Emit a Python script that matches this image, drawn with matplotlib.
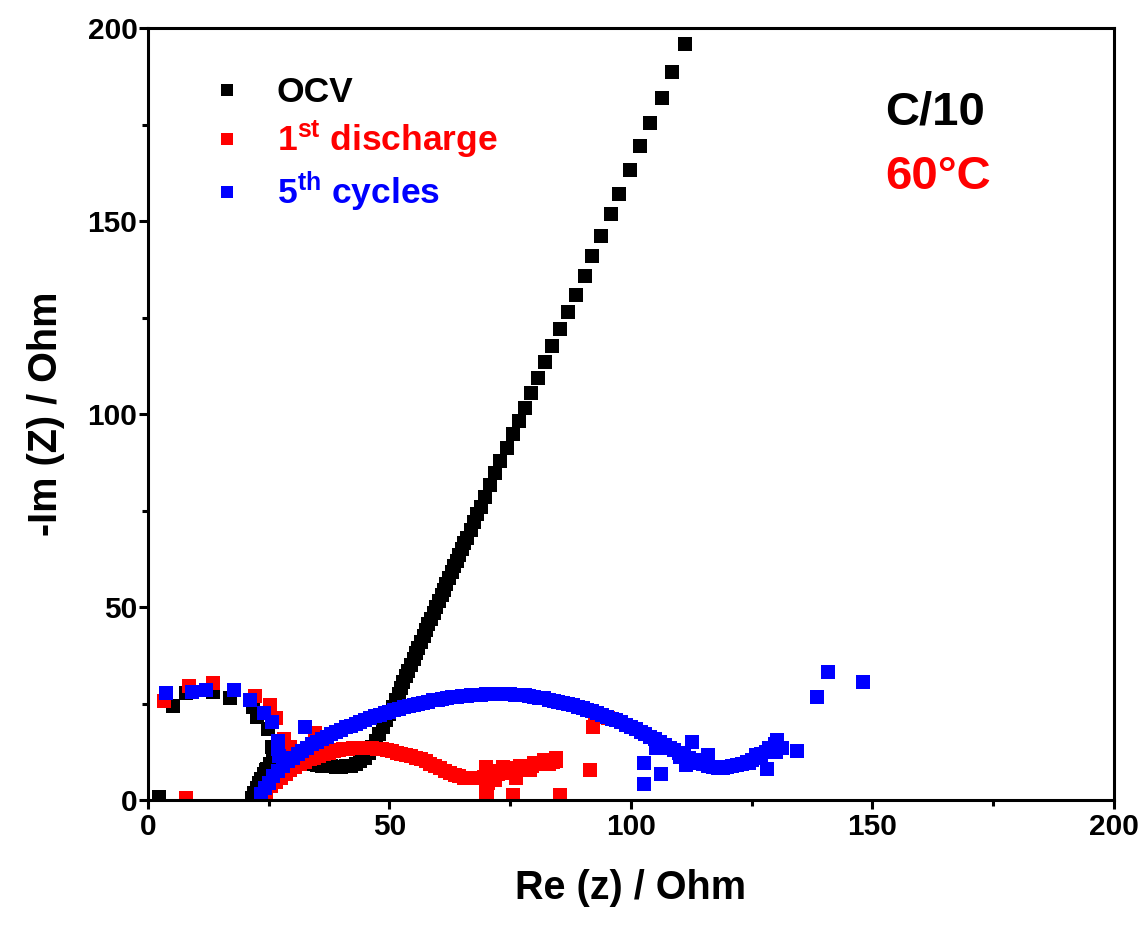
import matplotlib
matplotlib.use("Agg")
import matplotlib.pyplot as plt
from matplotlib.ticker import MultipleLocator
from matplotlib.lines import Line2D

plt.rcParams["font.family"] = ["Liberation Sans", "DejaVu Sans"]
plt.rcParams["font.weight"] = "bold"
plt.rcParams["mathtext.fontset"] = "custom"
plt.rcParams["mathtext.rm"] = "Liberation Sans:bold"
plt.rcParams["mathtext.it"] = "Liberation Sans:bold"
plt.rcParams["mathtext.bf"] = "Liberation Sans:bold"
plt.rcParams["mathtext.default"] = "rm"

# ---- data (Ohm) ----
ocv_re = [2.3, 5.2, 7.8, 13.4, 17.0, 21.8, 22.6, 24.9, 25.8, 24.4,
          21.5, 22.0, 22.5, 23.0, 23.5, 24.0, 24.6, 25.2, 26.0, 27.0, 28.0, 29.0, 30.0,
          31.0, 32.0, 33.0, 34.0, 35.0, 36.0, 37.0, 38.0, 39.0, 40.0, 41.0, 42.0, 43.0,
          44.0, 45.0, 45.8, 46.5, 47.2, 47.9, 48.6, 49.3, 50.0, 50.7, 51.4,
          51.9, 52.4, 52.9, 53.4, 53.9, 54.4, 55.0, 55.5, 56.0, 56.5, 57.1, 57.6, 58.1,
          58.6, 59.2, 59.7, 60.2, 60.8, 61.3, 61.8, 62.4, 62.9, 63.4, 64.0, 64.5, 65.0,
          65.5, 66.1, 66.8, 67.5, 68.2, 68.9, 69.8, 70.8,
          71.8, 73.0, 74.4, 75.5, 76.8, 78.1, 79.4, 80.8, 82.2, 83.7, 85.3, 86.9, 88.7,
          90.4, 92.0, 93.8, 95.8, 97.6, 99.9, 101.9, 104.0, 106.4, 108.6, 111.3]
ocv_im = [0.7, 24.4, 27.6, 28.1, 26.5, 24.2, 21.4, 18.4, 13.7, 7.8,
          0.5, 1.8, 3.0, 4.3, 5.5, 6.8, 8.0, 9.2, 10.2, 10.6, 10.6, 10.3, 10.0,
          9.7, 9.5, 9.3, 9.2, 9.0, 8.9, 8.8, 8.7, 8.6, 8.6, 8.7, 8.9, 9.3,
          10.0, 11.0, 12.3, 13.8, 15.3, 17.0, 18.8, 20.6, 22.4, 24.2, 26.0,
          27.5, 29.0, 30.5, 32.0, 33.5, 35.0, 36.5, 38.0, 39.5, 41.0, 42.5, 44.0, 45.5,
          47.0, 48.5, 50.0, 51.5, 53.0, 54.5, 56.0, 57.5, 59.0, 60.5, 62.0, 63.5, 65.0,
          66.5, 68.0, 70.0, 72.0, 74.0, 76.0, 78.5, 81.5,
          84.7, 87.9, 91.3, 94.7, 98.1, 101.6, 105.5, 109.3, 113.5, 117.5, 122.0, 126.4, 130.9,
          135.7, 140.9, 146.2, 151.7, 157.1, 163.1, 169.5, 175.3, 181.8, 188.7, 195.8]

dis1_re = [8.0, 3.4, 8.5, 13.5, 22.2, 25.3, 26.6, 28.2, 29.5, 34.6,
           23.5, 24.5, 25.5, 26.5, 27.5, 28.5, 29.5, 30.5, 31.5, 32.5, 33.5, 34.5, 35.5,
           36.5, 37.5, 38.5, 39.5, 40.5, 41.5, 42.5, 43.5, 44.5, 45.5, 46.5, 47.5, 48.5,
           49.5, 50.5, 51.5, 52.5, 53.5, 54.5, 55.5, 56.5, 57.5, 58.5, 59.5, 60.5, 61.5,
           62.5, 63.5, 64.5, 65.5, 66.5, 67.5, 68.5, 69.5, 70.5, 71.5, 72.5, 73.5, 74.5,
           75.5, 76.5, 77.5, 78.5, 79.5, 80.5, 81.5, 82.5, 83.5, 84.5,
           70.1, 70.1, 70.5, 71.8, 76.3, 75.6, 85.3, 91.5, 92.2, 92.5, 95.3, 73.6,
           79.1, 83.9, 84.4, 70.3, 72.5, 74.5, 77.0, 80.0, 82.0, 83.0]
dis1_im = [0.4, 25.6, 29.5, 30.4, 26.9, 24.6, 21.2, 15.7, 13.8, 17.3,
           1.0, 2.2, 3.5, 4.7, 5.8, 6.8, 7.7, 8.5, 9.2, 9.9, 10.5, 11.0, 11.5,
           11.9, 12.3, 12.6, 12.9, 13.1, 13.3, 13.4, 13.5, 13.5, 13.5, 13.4, 13.3, 13.1,
           12.9, 12.6, 12.3, 12.0, 11.7, 11.4, 11.0, 10.5, 10.0, 9.4, 8.8, 8.2, 7.6,
           7.0, 6.5, 6.1, 5.8, 5.6, 5.6, 5.7, 5.9, 6.2, 6.5, 6.8, 7.1, 7.4,
           7.7, 8.0, 8.3, 8.6, 8.9, 9.2, 9.5, 9.8, 10.0, 10.1,
           8.6, 2.2, 4.5, 5.2, 5.6, 1.3, 1.3, 7.8, 18.8, 22.0, 21.2, 8.6,
           7.8, 9.9, 10.9, 1.3, 7.5, 8.2, 8.8, 9.6, 10.3, 9.2]

cyc5_re = [3.7, 9.2, 12.1, 17.9, 21.1, 24.0, 25.8, 32.5, 27.0, 27.0, 27.2,
           23.5, 24.2, 25.0, 26.0, 27.0, 28.0, 29.0, 30.0, 31.0, 32.0, 33.0, 34.0, 35.0,
           36.0, 37.0, 38.0, 39.0, 40.0, 41.0, 42.0, 43.0, 44.0, 45.0, 46.0, 47.0, 48.0,
           49.0, 50.0, 51.0, 52.0, 53.0, 54.0, 55.0, 56.0, 57.0, 58.0, 59.0, 60.0, 61.0,
           62.0, 63.0, 64.0, 65.0, 66.0, 67.0, 68.0, 69.0, 70.0, 71.0, 72.0, 73.0, 74.0,
           75.0, 76.0, 77.0, 78.0, 79.0, 80.0, 81.0, 82.0, 83.0, 84.0, 85.0, 86.0, 87.0,
           88.0, 89.0, 90.0, 91.0, 92.0, 93.0, 94.0, 95.0, 96.0, 97.0, 98.0, 99.0, 100.0,
           101.0, 102.0, 103.0, 104.0, 105.0, 106.0, 107.0, 108.0, 109.0, 110.0, 111.0,
           112.0, 113.0, 114.0, 115.0, 116.0, 117.0, 118.0, 119.0, 120.0, 121.0, 122.0,
           123.0, 124.0, 125.0, 126.0, 127.0, 128.0, 129.0, 129.8, 130.3,
           102.7, 102.7, 105.3, 106.3, 110.1, 111.4, 112.6, 116.0, 128.2, 131.2, 134.3,
           138.6, 140.9, 148.0, 124.5, 126.0, 127.0, 128.5, 130.0]
cyc5_im = [27.8, 27.9, 28.5, 28.5, 25.9, 22.6, 20.1, 18.8, 15.2, 13.2, 11.5,
           1.5, 3.0, 4.5, 6.2, 7.6, 8.9, 10.0, 11.0, 11.9, 12.8, 13.6, 14.4, 15.1,
           15.8, 16.4, 17.0, 17.6, 18.2, 18.8, 19.3, 19.8, 20.3, 20.8, 21.3, 21.7, 22.1,
           22.5, 22.9, 23.3, 23.7, 24.0, 24.3, 24.6, 24.9, 25.2, 25.5, 25.8, 26.0, 26.2,
           26.4, 26.6, 26.8, 26.9, 27.0, 27.1, 27.2, 27.3, 27.4, 27.4, 27.5, 27.5, 27.4,
           27.4, 27.3, 27.2, 27.1, 26.9, 26.7, 26.5, 26.3, 26.0, 25.7, 25.4, 25.1, 24.8,
           24.5, 24.2, 23.8, 23.4, 23.0, 22.6, 22.1, 21.6, 21.1, 20.6, 20.1, 19.5, 18.9,
           18.3, 17.7, 17.1, 16.4, 15.7, 15.0, 14.3, 13.6, 12.9, 12.2, 11.5,
           10.9, 10.3, 9.7, 9.2, 8.8, 8.5, 8.4, 8.4, 8.5, 8.7, 9.0,
           9.4, 9.9, 10.4, 10.9, 11.6, 12.4, 13.4, 14.6, 15.6,
           9.7, 4.1, 13.6, 6.7, 11.2, 9.1, 14.9, 11.7, 8.0, 13.6, 12.7,
           26.8, 33.1, 30.6, 9.5, 11.6, 12.0, 13.5, 12.5]

series = [("OCV", ocv_re, ocv_im, "#000000"),
          ("1$^{st}$ discharge", dis1_re, dis1_im, "#ff0000"),
          ("5$^{th}$ cycles", cyc5_re, cyc5_im, "#0000ff")]

fig = plt.figure(figsize=(11.46, 9.36), dpi=100)
ax = fig.add_axes([0.129, 0.1453, 0.843, 0.8247])

handles = []
for label, re, im, col in series:
    ax.plot(re, im, "s", color=col, ms=10, mew=0, ls="none")
    handles.append(Line2D([], [], marker="s", color=col, ms=8.5, mew=0, ls="none"))

ax.set_xlim(0, 200)
ax.set_ylim(0, 200)
ax.xaxis.set_major_locator(MultipleLocator(50))
ax.xaxis.set_minor_locator(MultipleLocator(25))
ax.yaxis.set_major_locator(MultipleLocator(50))
ax.yaxis.set_minor_locator(MultipleLocator(25))
ax.tick_params(which="both", direction="out", width=2.2, labelsize=21.5, top=False, right=False)
ax.tick_params(which="major", length=6.5, pad=3)
ax.tick_params(axis="y", which="major", pad=1)
ax.tick_params(which="minor", length=4.5)
for s in ax.spines.values():
    s.set_linewidth(2.2)

ax.set_xlabel("Re (z) / Ohm", fontsize=28.5, fontweight="bold", labelpad=20)
ax.set_ylabel("-Im (Z) / Ohm", fontsize=28.5, fontweight="bold", labelpad=16)

leg = ax.legend(handles, [s[0] for s in series], loc="upper left",
                bbox_to_anchor=(0.064, 0.938), frameon=False, fontsize=25.5,
                handlelength=1.0, handletextpad=0.9, labelspacing=0.28,
                borderpad=0, borderaxespad=0)
for txt, s in zip(leg.get_texts(), series):
    txt.set_color(s[3])

ax.text(163, 178, "C/10", fontsize=34, fontweight="bold", color="black", ha="center", va="center")
ax.text(163.5, 161.5, "60°C", fontsize=34, fontweight="bold", color="#ff0000", ha="center", va="center")

plt.savefig("out.png", dpi=100)
plt.close()
